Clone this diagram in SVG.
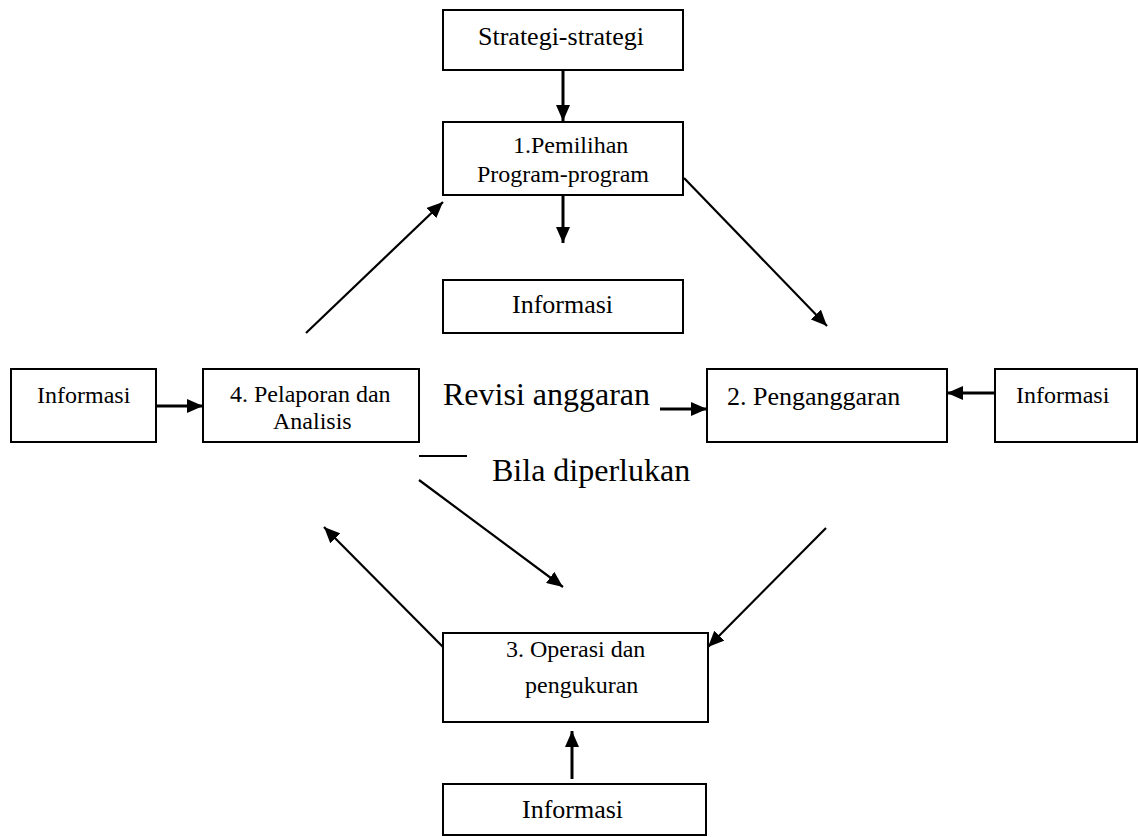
<svg xmlns="http://www.w3.org/2000/svg" width="1138" height="837" viewBox="0 0 1138 837">
<style>
.box{fill:#fff;stroke:#000;stroke-width:2}
.t{font-family:"Liberation Serif","Times New Roman",serif;fill:#000}
.s24{font-size:24px}
.s26{font-size:26px}
.s32{font-size:32px}
.a{stroke:#000;fill:none}
.thick{stroke-width:3}
.thin{stroke-width:2.2}
</style>
<defs>
<marker id="ah" viewBox="0 0 16 14" refX="16" refY="7" markerWidth="16" markerHeight="14" markerUnits="userSpaceOnUse" orient="auto">
<path d="M0,0 L16,7 L0,14 Z" fill="#000"/>
</marker>
</defs>
<rect width="1138" height="837" fill="#fff"/>
<g id="connectors">
<line class="a thick" x1="563" y1="70" x2="563" y2="121" marker-end="url(#ah)"/>
<line class="a thick" x1="563" y1="195" x2="563" y2="243" marker-end="url(#ah)"/>
<line class="a thick" x1="156" y1="406" x2="203" y2="406" marker-end="url(#ah)"/>
<line class="a thick" x1="660" y1="409" x2="707" y2="409" marker-end="url(#ah)"/>
<line class="a thick" x1="995" y1="393" x2="947" y2="393" marker-end="url(#ah)"/>
<line class="a thick" x1="572" y1="779" x2="572" y2="731" marker-end="url(#ah)"/>
<line class="a thin" x1="306" y1="333" x2="443" y2="202" marker-end="url(#ah)"/>
<line class="a thin" x1="684" y1="178" x2="827" y2="326" marker-end="url(#ah)"/>
<line class="a thin" x1="419" y1="480" x2="563" y2="587" marker-end="url(#ah)"/>
<line class="a thin" x1="443" y1="647" x2="324" y2="527" marker-end="url(#ah)"/>
<line class="a thin" x1="826" y1="528" x2="708" y2="647" marker-end="url(#ah)"/>
<line class="a" stroke-width="2" x1="419" y1="456" x2="467" y2="456"/>
</g>
<g id="strategi">
<rect class="box" x="443" y="10" width="240" height="60"/>
<text class="t s26" x="478" y="45">Strategi-strategi</text>
</g>
<g id="pemilihan">
<rect class="box" x="443" y="122" width="240" height="73"/>
<text class="t s24" x="513" y="153">1.Pemilihan</text>
<text class="t s24" x="477" y="182">Program-program</text>
</g>
<g id="informasi-tengah">
<rect class="box" x="443" y="280" width="240" height="53"/>
<text class="t s26" x="512" y="313">Informasi</text>
</g>
<g id="informasi-kiri">
<rect class="box" x="11" y="369" width="145" height="73"/>
<text class="t s24" x="37" y="403">Informasi</text>
</g>
<g id="pelaporan">
<rect class="box" x="203" y="369" width="216" height="73"/>
<text class="t s24" x="230" y="402">4. Pelaporan dan</text>
<text class="t s24" x="273" y="429">Analisis</text>
</g>
<g id="revisi">
<text class="t s32" x="443" y="405">Revisi anggaran</text>
<text class="t s32" x="492" y="481">Bila diperlukan</text>
</g>
<g id="penganggaran">
<rect class="box" x="707" y="369" width="240" height="73"/>
<text class="t s26" x="727" y="405">2. Penganggaran</text>
</g>
<g id="informasi-kanan">
<rect class="box" x="995" y="369" width="142" height="73"/>
<text class="t s24" x="1016" y="403">Informasi</text>
</g>
<g id="operasi">
<rect class="box" x="443" y="633" width="265" height="89"/>
<text class="t s24" x="506" y="657">3. Operasi dan</text>
<text class="t s24" x="525" y="693">pengukuran</text>
</g>
<g id="informasi-bawah">
<rect class="box" x="443" y="784" width="263" height="51"/>
<text class="t s26" x="522" y="818">Informasi</text>
</g>
</svg>
